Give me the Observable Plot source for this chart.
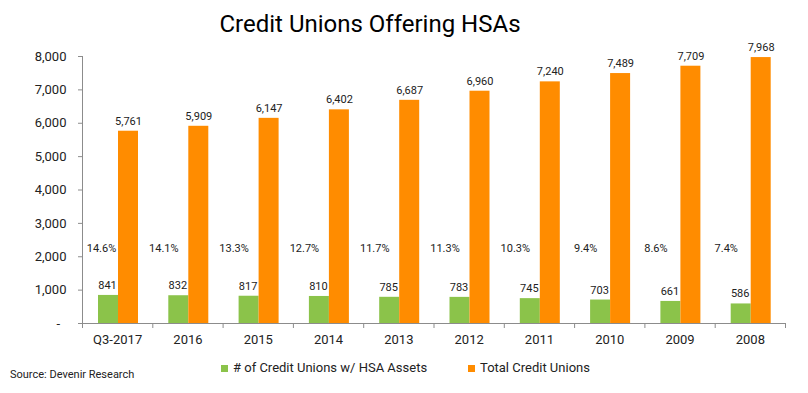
<!DOCTYPE html>
<html>
<head>
<meta charset="utf-8">
<script src="https://cdn.jsdelivr.net/npm/d3@7"></script>
<script src="https://cdn.jsdelivr.net/npm/@observablehq/plot@0.6"></script>
<style>
  body { margin: 0; background: #fff; font-family: Roboto, "Noto Sans", sans-serif; }
  #wrap { position: relative; width: 808px; height: 393px; }
  #title { position: absolute; left: 0; top: 12px; width: 740px; text-align: center; font-size: 24px; line-height: 24px; color: #000; }
  .legend { position: absolute; top: 361px; font-size: 13px; line-height: 14px; color: #222; display: flex; align-items: center; }
  .sw { display: inline-block; width: 7px; height: 7px; margin-right: 5px; }
  #source { position: absolute; left: 10px; top: 369px; font-size: 11px; line-height: 12px; color: #222; }
</style>
</head>
<body>
<div id="wrap">
  <div id="chart"></div>
  <div id="title">Credit Unions Offering HSAs</div>
  <div class="legend" style="left:221px"><span class="sw" style="background:#8BC34A"></span># of Credit Unions w/ HSA Assets</div>
  <div class="legend" style="left:468px"><span class="sw" style="background:#FF8C00"></span>Total Credit Unions</div>
  <div id="source">Source: Devenir Research</div>
</div>
<script>
const categories = ["Q3-2017", "2016", "2015", "2014", "2013", "2012", "2011", "2010", "2009", "2008"];
const hsaCreditUnions = [841, 832, 817, 810, 785, 783, 745, 703, 661, 586];
const totalCreditUnions = [5761, 5909, 6147, 6402, 6687, 6960, 7240, 7489, 7709, 7968];
const pctLabels = ["14.6%", "14.1%", "13.3%", "12.7%", "11.7%", "11.3%", "10.3%", "9.4%", "8.6%", "7.4%"];
const yTicks = [0, 1000, 2000, 3000, 4000, 5000, 6000, 7000, 8000];

const data = categories.map((c, i) => ({i, cat: c, hsa: hsaCreditUnions[i], total: totalCreditUnions[i], pct: pctLabels[i]}));

const GREEN = "#8BC34A", ORANGE = "#FF8C00", AXIS = "#8c8c8c";
const band = 70.3; // px per category
const u = px => px / band;
const fmt = d3.format(",");

const plot = Plot.plot({
  width: 808,
  height: 393,
  marginTop: 56,
  marginBottom: 70,
  marginLeft: 82,
  marginRight: 23,
  style: {fontFamily: "Roboto, sans-serif", color: "#222", background: "transparent"},
  x: {domain: [0, categories.length]},
  y: {domain: [0, 8000]},
  marks: [
    Plot.rectY(data, {x1: d => d.i + u(16), x2: d => d.i + u(36), y: "hsa", fill: GREEN}),
    Plot.rectY(data, {x1: d => d.i + u(36), x2: d => d.i + u(56), y: "total", fill: ORANGE}),
    Plot.text(data, {x: d => d.i + u(25), y: "hsa", text: d => fmt(d.hsa), dy: -10, fontSize: 11, fill: "#222"}),
    Plot.text(data, {x: d => d.i + u(46), y: "total", text: d => fmt(d.total), dy: -10, fontSize: 11, fill: "#222"}),
    Plot.text(data, {x: d => d.i + u(d.i === 0 ? 19 : 11), y: () => 2260, text: "pct", fontSize: 11, fill: "#222"}),
    Plot.ruleY([0], {stroke: AXIS}),
    Plot.ruleX([0], {stroke: AXIS}),
    Plot.axisY({ticks: yTicks, tickSize: 4, tickPadding: 12, stroke: AXIS, fontSize: 13, fill: "#222",
      tickFormat: d => d === 0 ? "-\u00a0\u00a0" : fmt(d), label: null}),
    Plot.axisX({ticks: d3.range(categories.length + 1), tickSize: 5, stroke: AXIS, tickFormat: () => "", label: null}),
    Plot.axisX({ticks: d3.range(categories.length).map(i => i + 0.5), tickSize: 0, tickPadding: 11, fontSize: 13, fill: "#222",
      tickFormat: t => categories[Math.floor(t)], label: null})
  ]
});
document.getElementById("chart").appendChild(plot);
</script>
</body>
</html>
